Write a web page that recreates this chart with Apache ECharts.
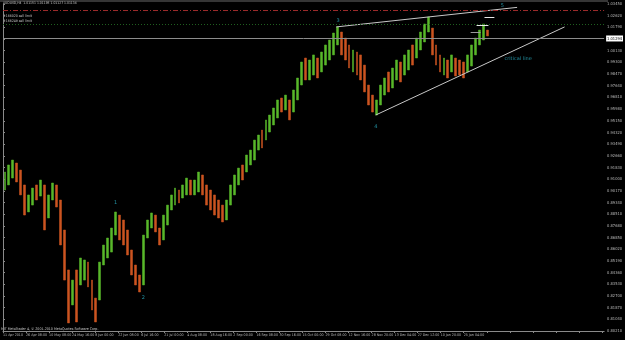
<!DOCTYPE html>
<html><head><meta charset="utf-8">
<script src="https://cdn.jsdelivr.net/npm/echarts@6/dist/echarts.min.js"></script>
<style>html,body{margin:0;padding:0;background:#000;}#c{width:625px;height:340px;}</style>
</head><body><div id="c"></div>
<script>
// price bars (each entry = one group of H4 bars), high / low / direction
const highs=[0.9151,0.9201,0.9236,0.9215,0.9165,0.9059,0.8988,0.9037,0.9059,0.9094,
0.9059,0.8988,0.9073,0.9059,0.8952,0.8739,0.8455,0.8383,0.8455,0.8540,
0.8526,0.8511,0.8383,0.8255,0.8511,0.8632,0.8682,0.8753,0.8867,0.8845,
0.8810,0.8739,0.8597,0.8490,0.8419,0.8703,0.8810,0.8860,0.8845,0.8753,
0.8845,0.8916,0.8988,0.9037,0.9023,0.9059,0.9108,0.9094,0.9094,0.9151,
0.9130,0.9059,0.9023,0.8988,0.8952,0.8916,0.8952,0.9059,0.9130,0.9179,
0.9201,0.9272,0.9307,0.9378,0.9414,0.9449,0.9521,0.9556,0.9606,0.9663,
0.9677,0.9698,0.9663,0.9734,0.9819,0.9933,0.9961,0.9947,0.9983,0.9961,
1.0004,1.0054,1.0089,1.0139,1.0182,1.0146,1.0103,1.0054,1.0018,1.0004,
0.9983,0.9911,0.9769,0.9698,0.9663,0.9769,0.9819,0.9862,0.9890,0.9947,
0.9933,0.9983,1.0018,1.0054,1.0103,1.0146,1.0203,1.0253,1.0174,1.0054,
0.9983,0.9961,0.9947,0.9983,0.9961,0.9947,0.9933,0.9983,1.0054,1.0103,
1.0160,1.0203,1.0160];
const lows=[0.9023,0.9059,0.9108,0.9080,0.8988,0.8845,0.8867,0.8916,0.8952,0.8980,
0.8739,0.8824,0.8952,0.8902,0.8632,0.8383,0.8078,0.8206,0.8085,0.8348,
0.8383,0.8334,0.8170,0.8085,0.8241,0.8490,0.8540,0.8582,0.8703,0.8668,
0.8632,0.8561,0.8419,0.8348,0.8298,0.8348,0.8682,0.8753,0.8725,0.8632,
0.8668,0.8774,0.8881,0.8916,0.8931,0.8966,0.8988,0.8988,0.8988,0.9009,
0.8988,0.8916,0.8881,0.8845,0.8824,0.8796,0.8810,0.8916,0.8988,0.9059,
0.9094,0.9151,0.9201,0.9236,0.9307,0.9322,0.9378,0.9435,0.9485,0.9535,
0.9577,0.9592,0.9521,0.9577,0.9663,0.9769,0.9805,0.9805,0.9840,0.9819,
0.9862,0.9911,0.9947,0.9983,1.0054,0.9983,0.9947,0.9890,0.9862,0.9840,
0.9805,0.9720,0.9627,0.9577,0.9556,0.9627,0.9698,0.9720,0.9748,0.9805,
0.9791,0.9840,0.9876,0.9911,0.9961,1.0018,1.0075,1.0146,0.9983,0.9911,
0.9862,0.9840,0.9819,0.9862,0.9833,0.9840,0.9819,0.9862,0.9904,0.9983,
1.0054,1.0089,1.0118];
const ups=[1,1,1,0,0,0,1,1,0,1, 0,1,1,0,0,0,0,1,0,1, 1,0,0,0,1,1,1,1,1,0,
0,0,0,0,0,1,1,1,0,0, 1,1,1,1,0,1,1,0,1,1, 0,0,0,0,0,0,1,1,1,1,
0,1,1,1,1,0,1,1,1,1, 0,1,0,1,1,1,0,1,1,0, 1,1,1,1,1,0,0,0,1,0,
0,0,0,0,1,1,1,0,1,1, 0,1,1,0,1,1,1,1,0,0, 0,1,0,1,0,0,0,1,1,1, 1,1,0];
const slotCount=152;
const timeLabels=["11 Apr 2010","26 Apr 08:00","10 May 08:00","24 May 16:00","8 Jun 00:00","22 Jun 08:00","6 Jul 16:00","21 Jul 00:00","4 Aug 08:00","18 Aug 16:00","2 Sep 00:00","16 Sep 08:00","30 Sep 16:00","15 Oct 00:00","29 Oct 08:00","12 Nov 16:00","28 Nov 20:00","13 Dec 04:00","27 Dec 12:00","10 Jan 20:00","25 Jan 04:00"];
const timeStep=5.825;
const priceMin=0.8021, priceMax=1.0345, priceStep=0.0083;
const bidPrice=1.0128, bidText="1.01294";
const stopLine=1.0267;
const orderLines=[1.0239,1.0217,1.0196];
const upperTrend=[[84.25,1.0182],[130,1.0321]];
const criticalTrend=[[94.25,0.9556],[142,1.0182]];
const shortLevels=[[118.25,120.75,1.0146,'#9a9a9a'],[119.75,122.75,1.0196,'#e8e8e8'],[121.75,124.25,1.0253,'#e8e8e8']];
const waveLabels=[["1",28.5,0.8931],["2",35.5,0.8255],["3",84.75,1.0224],["4",94.25,0.9471],["5",126.25,1.0331],["critical line",130.25,0.9954]];

const cats=[];for(let i=0;i<slotCount;i++)cats.push(String(i));
const candles=highs.map((h,i)=>ups[i]?[lows[i],h,lows[i],h]:[h,lows[i],lows[i],h]);

const chart=echarts.init(document.getElementById('c'),null,{renderer:'canvas'});
const FONT="'DejaVu Sans Condensed','Liberation Sans Narrow','DejaVu Sans'";
chart.setOption({
  backgroundColor:'#000000',
  animation:false,
  grid:{left:0,right:17,top:4,bottom:9},
  xAxis:[
    {type:'category',data:cats,boundaryGap:true,axisLine:{show:false},axisTick:{show:false},axisLabel:{show:false},splitLine:{show:false}},
    {type:'value',min:0,max:slotCount,interval:timeStep,position:'bottom',
     axisLine:{show:true,onZero:false,lineStyle:{color:'#8a8a8a',width:1}},
     axisTick:{show:true,length:2,lineStyle:{color:'#8a8a8a'}},
     splitLine:{show:false},
     axisLabel:{show:true,showMinLabel:true,showMaxLabel:false,hideOverlap:false,color:'#b8b8b8',fontSize:3.6,fontFamily:FONT,margin:2,align:'left',
       formatter:v=>{const k=Math.round(v/timeStep);return (Math.abs(k*timeStep-v)<0.01&&timeLabels[k])?timeLabels[k]:'';}}}
  ],
  yAxis:{type:'value',position:'right',min:priceMin,max:priceMax,interval:priceStep,scale:true,
    axisLine:{show:true,lineStyle:{color:'#8a8a8a',width:1}},
    axisTick:{show:true,length:2,lineStyle:{color:'#8a8a8a'}},
    splitLine:{show:false},
    axisLabel:{color:'#b8b8b8',fontSize:4,fontFamily:FONT,margin:3,formatter:v=>v.toFixed(5)}},
  series:[
    {type:'candlestick',xAxisIndex:0,data:candles,barWidth:2.4,
     itemStyle:{color:'#58b82a',color0:'#cc5420',borderColor:'#58b82a',borderColor0:'#cc5420',borderWidth:0.5}},
    {type:'line',xAxisIndex:1,data:[],silent:true,
     markLine:{symbol:'none',silent:true,animation:false,label:{show:false},
       data:[
        {yAxis:stopLine,lineStyle:{color:'#9a2a2a',type:[5,2,1,2],width:1}},
        ...orderLines.map(v=>({yAxis:v,lineStyle:{color:'#1f5f1f',type:[1,2],width:1}})),
        {yAxis:bidPrice,lineStyle:{color:'#8c8c8c',type:'solid',width:1},
          label:{show:true,position:'end',formatter:bidText,color:'#000',backgroundColor:'#ffffff',fontSize:4,fontFamily:FONT,padding:[1,1,1,1],distance:2}},
        ...shortLevels.map(s=>[{coord:[s[0],s[2]],lineStyle:{color:s[3],type:'solid',width:1}},{coord:[s[1],s[2]]}])
       ]}},
    {type:'line',xAxisIndex:1,data:upperTrend,symbol:'none',lineStyle:{color:'#c8c8c8',width:1}},
    {type:'line',xAxisIndex:1,data:criticalTrend,symbol:'none',lineStyle:{color:'#c8c8c8',width:1}},
    {type:'scatter',xAxisIndex:1,symbolSize:1,itemStyle:{color:'rgba(0,0,0,0)'},
     data:waveLabels.map(w=>({name:w[0],value:[w[1],w[2]]})),
     label:{show:true,position:'inside',formatter:p=>p.name,color:'#2bb3c8',fontSize:5,fontFamily:"'DejaVu Sans'"}}
  ],
  graphic:[
    {type:'line',shape:{x1:0,y1:1,x2:608,y2:1},style:{stroke:'#6a6a6a',lineWidth:1}},
    {type:'text',left:3,top:2,style:{text:'AUDUSD,H4  1.01151 1.01195 1.01127 1.01134',fill:'#c8c8c8',font:"3.4px 'DejaVu Sans Condensed'"}},
    {type:'text',left:3,top:14,style:{text:'#166020 sell limit',fill:'#c8c8c8',font:"3.5px 'DejaVu Sans Condensed'"}},
    {type:'text',left:3,top:19,style:{text:'#166249 sell limit',fill:'#c8c8c8',font:"3.5px 'DejaVu Sans Condensed'"}},
    {type:'text',left:1,top:327,style:{text:'MIT MetaTrader 4, © 2001-2010 MetaQuotes Software Corp.',fill:'#c8c8c8',font:"3.6px 'DejaVu Sans Condensed'"}}
  ]
});
</script></body></html>
